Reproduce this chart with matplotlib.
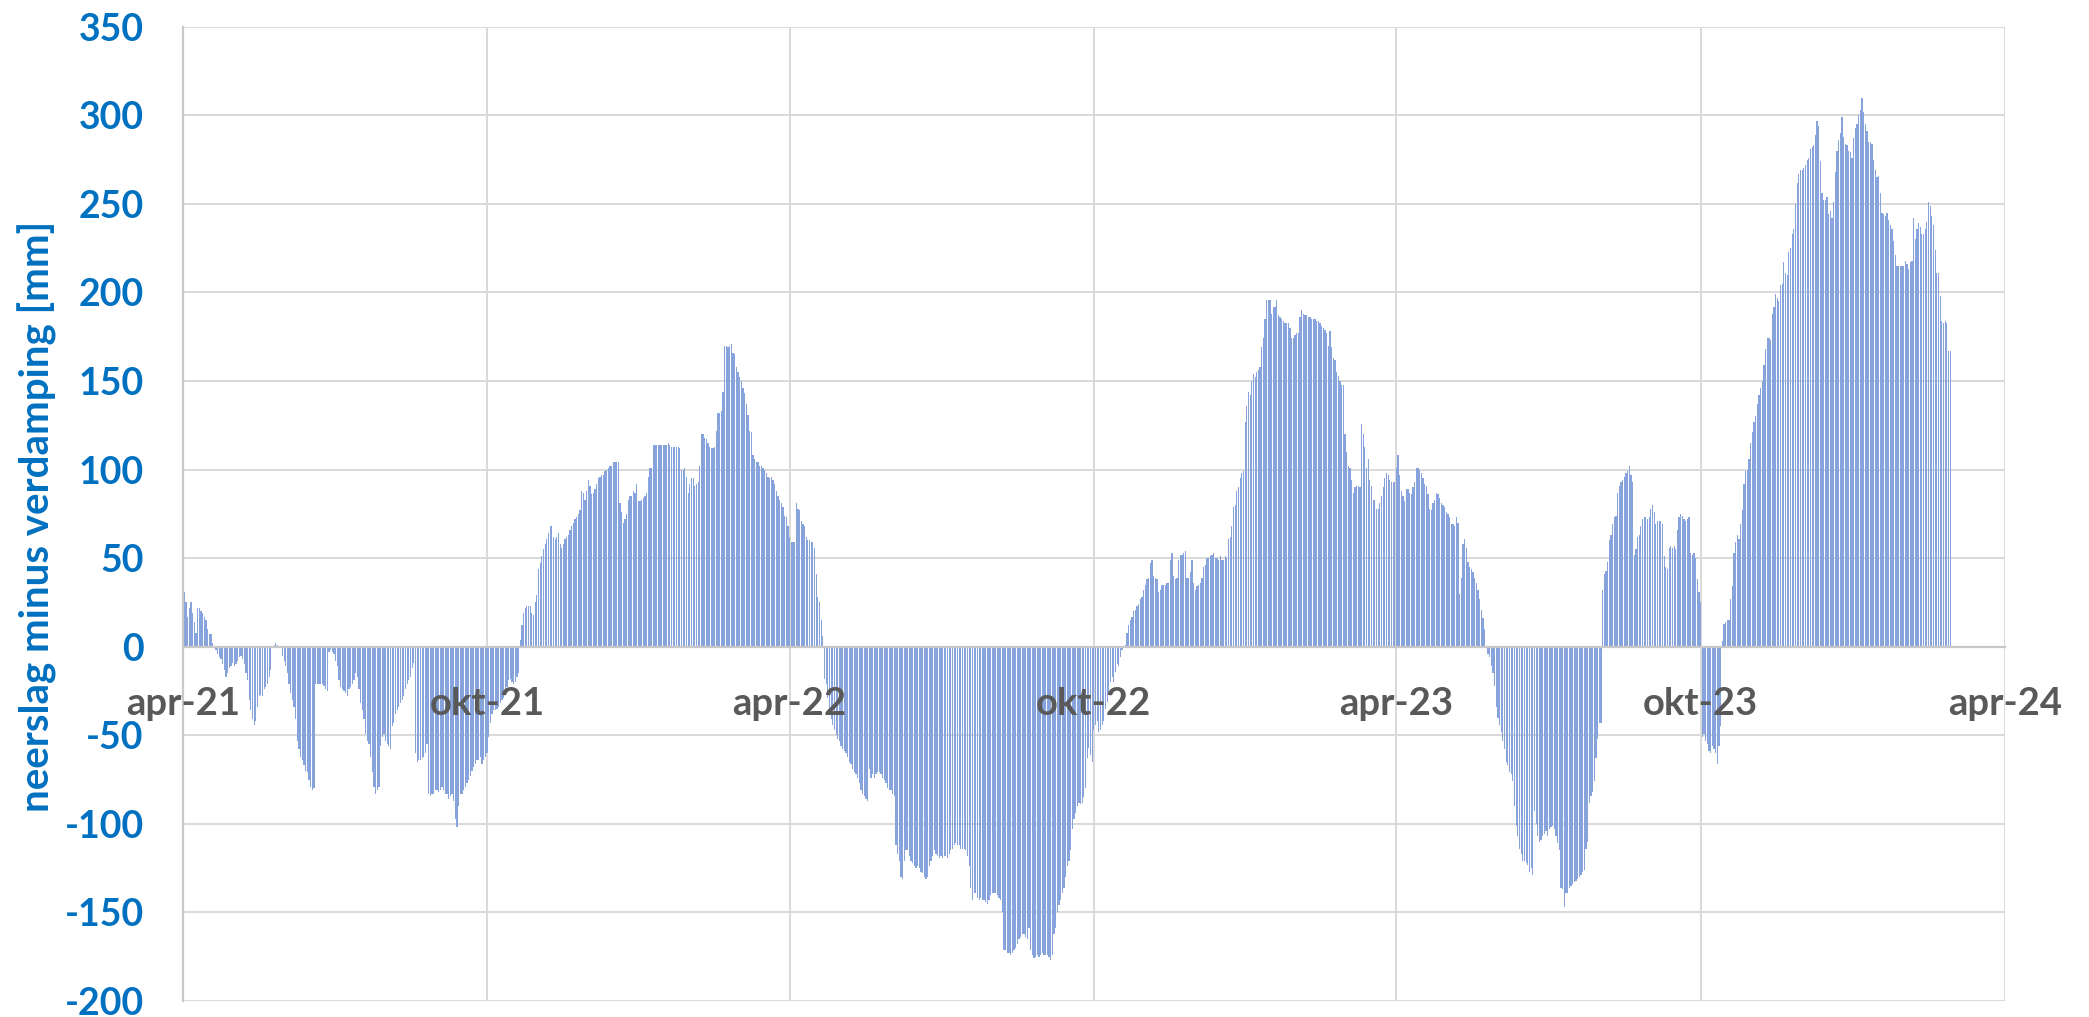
import numpy as np
import matplotlib
matplotlib.use("Agg")
import matplotlib.pyplot as plt
import matplotlib.dates as mdates

# neerslag minus verdamping [mm], dagwaarden per halfjaar
apr21_sep21 = [
    33, 31, 25, 17, 22, 25, 19, 14, 8, 22,
    22, 20, 19, 17, 15, 10, 7, 7, 2, -1,
    -2, -4, -6, -7, -10, -13, -17, -15, -12, -11,
    -9, -11, -10, -8, -6, -5, -7, -10, -15, -19,
    -30, -36, -41, -44, -42, -34, -28, -27, -28, -24,
    -23, -21, -17, -13, -1, 1, 2, 1, 0, -1,
    -5, -8, -11, -15, -21, -26, -30, -34, -41, -53,
    -58, -62, -64, -67, -70, -71, -75, -79, -81, -80,
    -21, -21, -21, -21, -21, -22, -24, -25, -3, -2,
    -3, -4, -8, -11, -19, -23, -24, -25, -26, -28,
    -24, -23, -21, -19, -15, -17, -24, -32, -36, -41,
    -49, -53, -55, -62, -71, -79, -83, -81, -79, -56,
    -51, -49, -53, -55, -56, -58, -45, -43, -38, -36,
    -34, -32, -30, -28, -24, -21, -19, -17, -12, -9,
    -60, -65, -64, -64, -63, -62, -60, -55, -83, -84,
    -83, -83, -81, -81, -82, -81, -79, -81, -83, -83,
    -86, -84, -83, -87, -97, -102, -90, -83, -83, -81,
    -79, -77, -75, -73, -70, -68, -66, -64, -64, -62,
    -66, -64, -62,
]
okt21_mrt22 = [
    -60,
    -51, -43, -38, -36, -36, -35, -34, -32, -30, -29,
    -26, -23, -19, -18, -20, -21, -20, -17, -15,
    4, 12, 19, 22, 23, 23, 23, 19, 18, 25,
    29, 44, 47, 51, 55, 58, 61, 64, 68, 68,
    62, 61, 62, 64, 58, 56, 58, 61, 62, 63,
    66, 68, 70, 72, 73, 75, 77, 88, 87, 83,
    88, 94, 91, 86, 87, 89, 92, 95, 96, 97,
    97, 99, 100, 101, 102, 102, 104, 104, 104, 104,
    81, 76, 70, 72, 75, 83, 85, 85, 88, 87,
    92, 82, 82, 83, 84, 85, 87, 96, 101, 101,
    114, 114, 114, 114, 114, 114, 114, 114, 114, 115,
    114, 113, 113, 113, 113, 113, 112, 100, 100, 101,
    96, 87, 92, 95, 95, 91, 92, 93, 102, 120,
    120, 118, 117, 115, 113, 112, 112, 113, 122, 132,
    132, 133, 144, 170, 170, 169, 170, 171, 166, 165,
    158, 155, 152, 150, 146, 143, 137, 131, 122, 121,
    108, 106, 104, 104, 102, 102, 101, 100, 98, 96,
    95, 96, 94, 92, 88, 85, 83, 81, 79, 74,
    73, 68,
]
apr22_sep22 = [
    62, 59, 59, 59, 81, 78, 77, 71, 69, 68,
    62, 60, 60, 59, 59, 56, 41, 28, 25, 15,
    6, -18, -21, -29, -35, -41, -44, -47, -50, -52,
    -53, -56, -58, -59, -60, -62, -65, -66, -69, -71,
    -72, -74, -77, -81, -83, -84, -86, -87, -69, -74,
    -72, -74, -72, -71, -71, -72, -74, -75, -77, -80,
    -81, -81, -83, -84, -112, -117, -121, -130, -131, -121,
    -115, -115, -118, -121, -122, -124, -125, -124, -125, -127,
    -128, -130, -131, -130, -124, -121, -118, -115, -117, -118,
    -119, -118, -119, -118, -118, -119, -117, -115, -114, -112,
    -111, -112, -112, -114, -114, -114, -115, -118, -124, -136,
    -143, -139, -139, -142, -143, -142, -143, -143, -144, -145,
    -143, -140, -139, -139, -139, -140, -142, -143, -150, -171,
    -171, -173, -173, -174, -173, -171, -170, -168, -165, -164,
    -162, -162, -164, -165, -159, -171, -174, -176, -175, -174,
    -175, -174, -173, -174, -174, -174, -175, -177, -174, -162,
    -159, -150, -146, -143, -139, -136, -130, -124, -121, -115,
    -103, -97, -94, -90, -88,
    -89, -88, -85, -80, -63, -57, -61, -65,
]
okt22_mrt23 = [
    -47, -44, -42, -48, -47, -44, -42, -35, -31, -27,
    -20, -17, -20, -14, -10, -11, -6, -2, 0, 1,
    8, 12, 15, 17, 20, 21, 23, 24, 27, 28,
    32, 35, 38, 39, 47, 49, 40, 39, 38, 31,
    32, 35, 35, 35, 36, 36, 49, 53, 40, 38,
    39, 49, 52, 52, 53, 54, 39, 39, 42, 49,
    36, 32, 34, 35, 36, 39, 45, 46, 50, 50,
    51, 52, 53, 50, 50, 49, 51, 49, 49, 51,
    50, 61, 62, 68, 79, 80, 88, 90, 95, 98,
    99, 127, 136, 144, 142, 150, 154, 152, 155, 156,
    158, 169, 174, 185, 196, 196, 196, 188, 192, 192,
    196, 187, 186, 185, 184, 183, 183, 183, 180, 174,
    174, 176, 177, 177, 186, 190, 188, 187, 187, 186,
    186, 185, 185, 185, 184, 184, 183, 181, 180, 179,
    177, 170, 178, 169, 163, 162, 155, 153, 150, 148,
    148, 120, 110, 102, 101, 94, 87, 90, 91, 91,
    90, 126, 120, 113, 101, 106, 94, 91, 83, 83,
    78, 78,
    81, 85, 90, 95, 98, 97, 94, 93, 93, 93,
]
apr23_sep23 = [
    101, 108, 97, 88, 85, 82, 89, 89, 87, 86,
    90, 93, 101, 101, 100, 98, 95, 92, 91, 86,
    78, 77, 81, 83, 87, 86, 84, 81, 80, 79,
    76, 75, 73, 69, 69, 68, 73, 70, 30, 39,
    58, 61, 56, 48, 45, 44, 42, 39, 36, 32,
    27, 21, 16, 10, 0, -4, -6, -11, -15, -22,
    -34, -40, -44, -48, -53, -58, -65, -67, -71, -72,
    -76, -90, -101, -107, -114, -117, -121, -121, -122, -123,
    -127, -125, -129, -93, -100, -107, -110, -109, -107, -106,
    -104, -107, -103, -102, -101, -103, -107, -111, -115, -136,
    -137, -147, -139, -139, -136, -135, -134, -133, -132, -131,
    -130, -129, -127, -126, -114, -110, -88, -84, -82, -76,
    -63, -52, -43, -43, 32, 41, 43, 48, 60, 63,
    69, 73, 74, 87, 91, 93, 94, 96, 98, 99,
    102, 97, 93, 52, 55, 62, 63, 68, 72, 73,
    73, 72, 73, 78, 80, 76, 69, 71, 71, 71,
    69, 51, 45, 44, 56, 57, 56, 57, 55, 66,
    73, 75, 74, 72, 71, 72, 73, 53, 52, 53,
    50, 38, 31,
]
okt23_feb24 = [
    25,
    -51, -49, -53, -55, -59, -60, -56, -58, -60, -66,
    -56, -45,
    3, 13, 14, 15, 15, 27, 34, 53, 59, 63,
    61, 69, 77, 92, 99, 100, 106, 115, 121, 127,
    130, 137, 142, 146, 150, 159, 168, 174, 174, 173,
    188, 192, 199, 197, 195, 204, 205, 217, 211, 210,
    223, 225, 233, 236, 250, 262, 267, 269, 269, 270,
    272, 275, 276, 281, 282, 283, 289, 297, 294, 274,
    256, 252, 252, 254, 244, 246, 242, 251, 268, 280,
    286, 290, 299, 288, 284, 283, 280, 279, 276, 287,
    293, 295, 300, 303, 310, 302, 295, 291, 285, 285,
    284, 275, 269, 265, 266, 256, 245, 244, 243, 245,
    241, 238, 236, 229, 221, 215, 215, 215, 215, 215,
    218, 216, 213, 217, 218, 242, 230, 236, 239, 237,
    233, 233, 236, 240, 251, 249, 243, 238, 224, 211,
    211, 198, 184, 183, 184, 183, 167, 167,
]

segment_starts = ['2021-04-01', '2021-10-01', '2022-04-01',
                  '2022-10-01', '2023-04-01', '2023-10-01']
segments = [apr21_sep21, okt21_mrt22, apr22_sep22,
            okt22_mrt23, apr23_sep23, okt23_feb24]

tick_dates = ['2021-04-01', '2021-10-01', '2022-04-01', '2022-10-01',
              '2023-04-01', '2023-10-01', '2024-04-01']
tick_labels = ['apr-21', 'okt-21', 'apr-22', 'okt-22', 'apr-23', 'okt-23', 'apr-24']

days, values = [], []
for start, vals in zip(segment_starts, segments):
    d0 = np.datetime64(start)
    days.append(np.arange(d0, d0 + len(vals)))
    values.extend(vals)
x = mdates.date2num(np.concatenate(days))
values = np.array(values, dtype=float)
ticks = mdates.date2num(np.array(tick_dates, dtype='datetime64[D]'))

plt.rcParams['font.family'] = ['Lato', 'DejaVu Sans']
plt.rcParams['font.weight'] = 'bold'
plt.rcParams['axes.unicode_minus'] = False

fig = plt.figure(figsize=(20.89, 10.17), dpi=100)
ax = fig.add_axes([182.7 / 2089, 16 / 1017, 1822.3 / 2089, 974.3 / 1017])

ax.bar(x, values, width=0.75, color='#86A3DC', linewidth=0, zorder=2)

ax.set_xlim(ticks[0], ticks[-1])
ax.set_ylim(-200, 350)
ax.set_yticks(np.arange(-200, 351, 50))
ax.set_xticks(ticks)
ax.set_xticklabels([])
ax.grid(True, color='#d9d9d9', linewidth=1.4, zorder=0)
ax.set_axisbelow(True)

for s in ['top', 'right']:
    ax.spines[s].set_visible(False)
ax.spines['left'].set_color('#c8c8c8')
ax.spines['left'].set_linewidth(1.6)
ax.spines['bottom'].set_position(('data', 0))
ax.spines['bottom'].set_color('#c8c8c8')
ax.spines['bottom'].set_linewidth(1.6)

ax.tick_params(axis='both', length=0)
ax.tick_params(axis='y', pad=28, labelsize=27, labelcolor='#0070C0')

for t, lab in zip(ticks, tick_labels):
    ax.annotate(lab, xy=(t, 0), xytext=(0, -49), textcoords='offset points',
                ha='center', va='baseline', fontsize=27.5, fontweight='bold',
                color='#595959', annotation_clip=False)

fig.text(37 / 2089, 1 - 516 / 1017, 'neerslag minus verdamping [mm]',
         rotation=90, ha='center', va='center', fontsize=29,
         fontweight='bold', color='#0070C0')

fig.savefig('out.png', dpi=100)
